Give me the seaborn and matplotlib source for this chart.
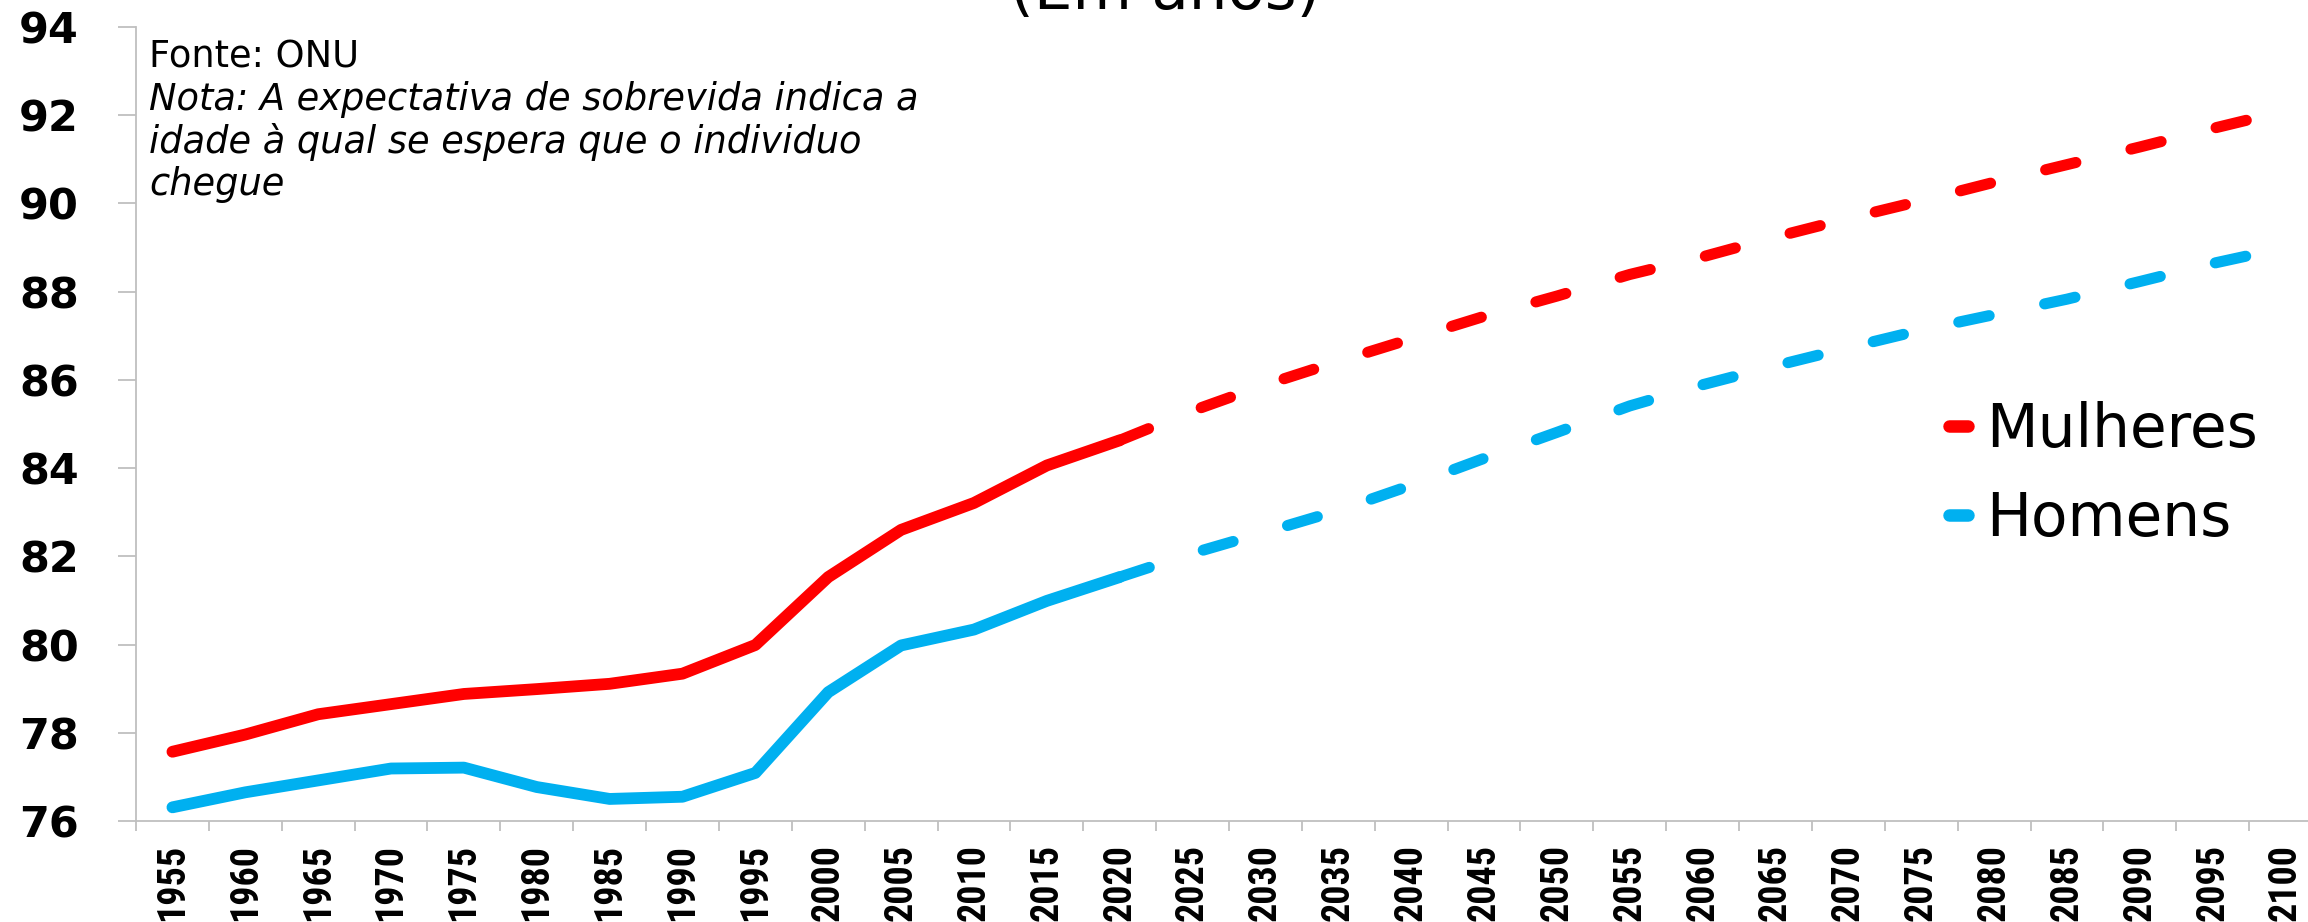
#!/usr/bin/env python3
"""
Expectativa de sobrevida (em anos) - Mulheres e Homens, 1955-2100
Fonte: ONU
"""

import os
import matplotlib
matplotlib.use('Agg')
import matplotlib.pyplot as plt
from matplotlib import font_manager
from matplotlib.lines import Line2D
import pandas as pd
import seaborn as sns

# ---- dados ----
anos_hist = [1955, 1960, 1965, 1970, 1975, 1980, 1985, 1990, 1995, 2000,
             2005, 2010, 2015, 2020]
anos_proj = [2020, 2025, 2030, 2035, 2040, 2045, 2050, 2055, 2060, 2065,
             2070, 2075, 2080, 2085, 2090, 2095, 2100]

mulheres_hist = [77.57, 77.96, 78.42, 78.65, 78.88, 78.99, 79.11, 79.34,
                 79.99, 81.53, 82.60, 83.21, 84.06, 84.63]
mulheres_proj = [84.63, 85.30, 85.89, 86.42, 86.93, 87.44, 87.90, 88.39,
                 88.79, 89.24, 89.66, 90.06, 90.48, 90.88, 91.28, 91.70, 92.10]

homens_hist = [76.31, 76.65, 76.92, 77.19, 77.21, 76.77, 76.50, 76.55,
               77.09, 78.92, 79.98, 80.34, 80.99, 81.53]
homens_proj = [81.53, 82.07, 82.55, 83.04, 83.61, 84.22, 84.81, 85.41,
               85.89, 86.32, 86.73, 87.13, 87.48, 87.83, 88.23, 88.64, 89.00]

rotulos_anos = anos_hist + anos_proj[1:]
ticks_y = [76, 78, 80, 82, 84, 86, 88, 90, 92, 94]

VERMELHO = '#FF0000'
AZUL = '#00B0F0'
CINZA = '#BFBFBF'

sns.set_style('white')
plt.rcParams['font.family'] = ['DejaVu Sans']
plt.rcParams['text.color'] = 'black'
plt.rcParams['xtick.color'] = 'black'
plt.rcParams['ytick.color'] = 'black'


def fonte_condensada():
    """Procura uma fonte bold estreita para os anos (rotulos verticais)."""
    preferidas = ['LiberationSansNarrow-Bold', 'RobotoCondensed-Bold',
                  'NotoSans-CondensedBold', 'DejaVuSansCondensed-Bold',
                  'OpenSans-CondensedBold', 'LiberationSans-Bold', 'Roboto-Bold']
    arquivos = {os.path.splitext(os.path.basename(f.fname))[0]: f.fname
                for f in font_manager.fontManager.ttflist}
    for nome in preferidas:
        if nome in arquivos:
            return font_manager.FontProperties(fname=arquivos[nome])
    return font_manager.FontProperties(family='Liberation Sans', weight='bold')


W, H = 2308, 922
fig = plt.figure(figsize=(W / 100, H / 100), dpi=100)
ax = fig.add_axes([136 / W, 1 - 821 / H, (2322 - 136) / W, (821 - 27) / H])

df_hist = pd.DataFrame({'ano': anos_hist, 'Mulheres': mulheres_hist, 'Homens': homens_hist})
df_proj = pd.DataFrame({'ano': anos_proj, 'Mulheres': mulheres_proj, 'Homens': homens_proj})

tracejado = (0, (2.8, 5.1))
for serie, cor in [('Homens', AZUL), ('Mulheres', VERMELHO)]:
    sns.lineplot(data=df_hist, x='ano', y=serie, color=cor, linewidth=8.5,
                 solid_capstyle='round', solid_joinstyle='round',
                 errorbar=None, ax=ax)
    sns.lineplot(data=df_proj, x='ano', y=serie, color=cor, linewidth=8,
                 linestyle=tracejado, dash_capstyle='round',
                 errorbar=None, ax=ax)

ax.set_xlim(1952.5, 2102.5)
ax.set_ylim(76, 94)
ax.set_xlabel('')
ax.set_ylabel('')

ax.set_yticks(ticks_y)
ax.set_yticklabels([str(t) for t in ticks_y], fontsize=31, fontweight='bold',
                   family='DejaVu Sans', color='black')
ax.set_xticks(rotulos_anos)
ax.set_xticklabels([str(a) for a in rotulos_anos], rotation=90, color='black')
ax.set_xticks([a - 2.5 for a in rotulos_anos], minor=True)

fp_anos = fonte_condensada()
fp_anos.set_size(30)
for lbl in ax.get_xticklabels():
    lbl.set_fontproperties(fp_anos)

ax.tick_params(axis='y', which='major', length=13, width=1.3, color=CINZA,
               pad=28, left=True)
ax.tick_params(axis='x', which='major', length=0, pad=16.5)
ax.tick_params(axis='x', which='minor', length=7.2, width=1.3, color=CINZA,
               bottom=True)

for lado in ['top', 'right']:
    ax.spines[lado].set_visible(False)
for lado in ['left', 'bottom']:
    ax.spines[lado].set_color(CINZA)
    ax.spines[lado].set_linewidth(1.3)
ax.grid(False)

# ajusta o tamanho dos anos para caberem (~77 px) acima da borda inferior
fig.canvas.draw()
renderer = fig.canvas.get_renderer()
altura = max(l.get_window_extent(renderer).height for l in ax.get_xticklabels())
novo_tam = 30 * 77 / altura
for lbl in ax.get_xticklabels():
    lbl.set_fontsize(novo_tam)

# titulo (parcialmente cortado no topo)
fig.text(1165 / W, 1 - 9 / H, '(Em anos)', ha='center', va='baseline', fontsize=44)

# fonte e nota
fig.text(149 / W, 1 - 67 / H, 'Fonte: ONU', ha='left', va='baseline', fontsize=26.5)
linhas_nota = ['Nota: A expectativa de sobrevida indica a',
               'idade à qual se espera que o individuo',
               'chegue']
for linha, base in zip(linhas_nota, [110, 153, 195]):
    fig.text(149 / W, 1 - base / H, linha, ha='left', va='baseline',
             fontsize=26.5, style='italic')

# legenda
handles = [Line2D([], [], color=VERMELHO, lw=9, solid_capstyle='round'),
           Line2D([], [], color=AZUL, lw=9, solid_capstyle='round')]
fig.legend(handles, ['Mulheres', 'Homens'], loc='center left',
           bbox_to_anchor=(1949 / W, 1 - 475 / H), frameon=False,
           handlelength=0.32, handletextpad=0.3, labelspacing=0.5,
           borderpad=0, borderaxespad=0,
           prop={'family': 'DejaVu Sans', 'size': 43})

fig.savefig('out.png', dpi=100, facecolor='white')
